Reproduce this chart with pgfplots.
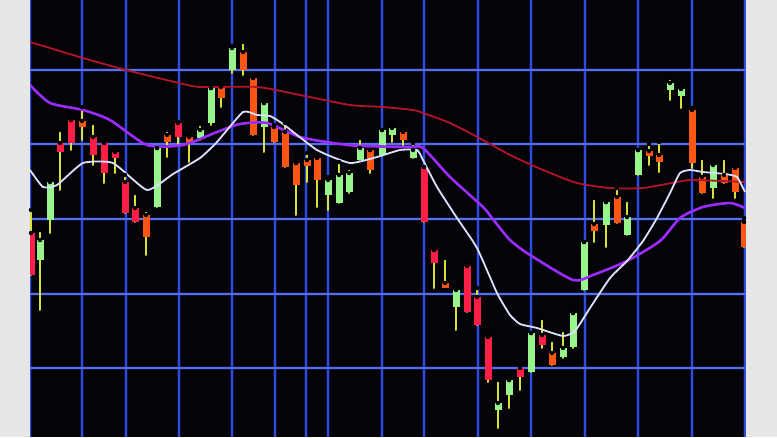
\documentclass[border=0pt]{standalone}
\usepackage{pgfplots}
\pgfplotsset{compat=1.18}
\usepackage{pgfplotstable}

\definecolor{panel}{HTML}{E7E7E7}
\definecolor{screen}{HTML}{030308}
\definecolor{gridblue}{HTML}{2F4BE0}
\definecolor{gridglow}{HTML}{2236B0}
\definecolor{candlegreen}{HTML}{98F58C}
\definecolor{candlered}{HTML}{FF1E46}
\definecolor{candleorange}{HTML}{FF5514}
\definecolor{wick}{HTML}{D6E23A}
\definecolor{maslow}{HTML}{B3142C}
\definecolor{mamid}{HTML}{9A2CFF}
\definecolor{mafast}{HTML}{DCE0FF}

% candles in screen pixels (y grows downwards): x, wick high/low, body top/bottom
\pgfplotstableread{
x   hi  lo  top bot
40  230 310 240 260
50  180 233 182 220
157 148 207 148 207
200 124 140 130 138
211 88  125 88  123
232 46  73  48  70
264 103 152 103 127
328 177 210 180 195
339 162 203 175 203
349 168 193 173 192
360 138 160 148 160
382 130 155 130 155
392 125 142 128 135
413 143 158 150 158
456 287 330 290 307
498 380 428 403 410
509 380 408 380 395
531 333 372 333 372
563 330 358 348 357
573 313 348 313 347
584 242 290 242 290
606 202 247 202 225
627 200 235 217 235
638 150 175 150 175
670 78  100 83  90
681 88  108 89  96
713 162 198 165 188
}\greencandles

\pgfplotstableread{
x   hi  lo  top bot
31  210 275 233 275
60  130 190 143 152
71  117 150 120 143
93  123 165 137 155
104 140 183 143 173
115 148 173 152 158
125 175 213 182 213
135 193 222 208 222
178 122 145 123 137
424 167 222 167 222
434 250 288 250 263
467 263 312 266 312
477 288 325 297 325
488 335 382 337 380
520 365 390 368 377
542 318 348 335 345
}\redcandles

\pgfplotstableread{
x   hi  lo  top bot
82  107 140 121 127
146 210 255 215 237
167 130 157 135 142
189 135 162 137 143
221 85  107 87  98
243 42  75  52  70
253 78  135 78  135
274 125 142 127 142
285 123 167 132 167
296 163 215 163 185
307 153 182 160 166
317 157 207 158 180
370 150 173 150 170
403 128 147 132 140
445 258 287 283 288
552 340 365 353 365
594 198 242 224 231
617 188 223 197 223
649 144 165 151 156
659 142 172 155 162
692 108 168 110 163
702 158 193 177 193
724 158 183 175 183
735 167 198 168 192
744 218 247 222 247
}\orangecandles

\pgfplotsset{
  wicks/.style={only marks, mark=none,
    error bars/.cd, y dir=plus, y explicit, error mark=none,
    error bar style={wick, line width=2pt, line cap=round}},
  bodies/.style={only marks, mark=none,
    error bars/.cd, y dir=plus, y explicit, error mark=none,
    error bar style={#1, line width=7pt}},
}

\begin{document}
\begin{tikzpicture}
\begin{axis}[
  x=1pt, y=1pt, scale only axis,
  xmin=0, xmax=777, ymin=0, ymax=437,
  y dir=reverse,
  hide axis,
  clip=true,
]
% screen
\addplot[fill=screen, draw=none] coordinates {(0,0)(777,0)(777,437)(0,437)} -- cycle;

% grid with a little glow
\addplot[ycomb, gridglow, opacity=0.3, line width=4pt] coordinates {
  (30,437)(82,437)(126,437)(179,437)(232,437)(275,437)(306,437)(328,437)
  (382,437)(424,437)(478,437)(531,437)(585,437)(638,437)(692,437)(745,437)};
\addplot[ycomb, gridblue, line width=1.4pt] coordinates {
  (30,437)(82,437)(126,437)(179,437)(232,437)(275,437)(306,437)(328,437)
  (382,437)(424,437)(478,437)(531,437)(585,437)(638,437)(692,437)(745,437)};
\addplot[xcomb, gridglow, opacity=0.3, line width=4pt] coordinates {
  (745,70)(745,144)(745,219)(745,294)(745,368)};
\addplot[xcomb, gridblue!80!white, line width=1.4pt] coordinates {
  (745,70)(745,144)(745,219)(745,294)(745,368)};

% wicks
\addplot[wicks] table[x=x, y=hi, y error plus expr=\thisrow{lo}-\thisrow{hi}] {\greencandles};
\addplot[wicks] table[x=x, y=hi, y error plus expr=\thisrow{lo}-\thisrow{hi}] {\redcandles};
\addplot[wicks] table[x=x, y=hi, y error plus expr=\thisrow{lo}-\thisrow{hi}] {\orangecandles};

% bodies
\addplot[bodies=candlegreen] table[x=x, y=top, y error plus expr=\thisrow{bot}-\thisrow{top}] {\greencandles};
\addplot[bodies=candlered] table[x=x, y=top, y error plus expr=\thisrow{bot}-\thisrow{top}] {\redcandles};
\addplot[bodies=candleorange] table[x=x, y=top, y error plus expr=\thisrow{bot}-\thisrow{top}] {\orangecandles};

% moving averages
\addplot[maslow, line width=1.8pt, smooth, tension=0.4] coordinates {
  (30,42)(83,58)(126,70)(179,83)(200,87)(257,87)(300,95)(350,105)(383,107)
  (413,110)(423,113)(450,123)(483,140)(510,155)(543,170)(577,183)(610,188)
  (643,188)(677,182)(693,180)(745,182)};
\addplot[mamid, line width=2.6pt, smooth, tension=0.4] coordinates {
  (30,85)(50,103)(83,110)(110,120)(147,145)(183,145)(217,132)(240,124)(267,123)
  (300,137)(333,143)(360,146)(410,147)(423,148)(450,177)(483,207)(492,218)
  (510,240)(530,255)(573,280)(593,275)(627,261)(660,241)(680,218)(703,207)
  (730,203)(745,208)};
\addplot[mafast, line width=1.8pt, smooth, tension=0.3] coordinates {
  (30,170)(43,187)(57,185)(83,163)(113,163)(147,190)(173,174)(200,158)(217,142)
  (243,112)(257,115)(270,116)(283,124)(317,150)(350,163)(377,157)(400,150)
  (417,150)(423,160)(437,187)(457,218)(477,248)(497,293)(510,315)(520,324)
  (537,328)(563,336)(575,331)(590,308)(610,278)(627,261)(643,241)(657,218)
  (670,193)(680,173)(690,170)(703,172)(725,174)(737,177)(745,192)};

% light side panels of the photo
\addplot[fill=panel, draw=none] coordinates {(0,0)(29.5,0)(29.5,437)(0,437)} -- cycle;
\addplot[fill=panel, draw=none] coordinates {(745.8,0)(777,0)(777,437)(745.8,437)} -- cycle;
\end{axis}
\end{tikzpicture}
\end{document}
